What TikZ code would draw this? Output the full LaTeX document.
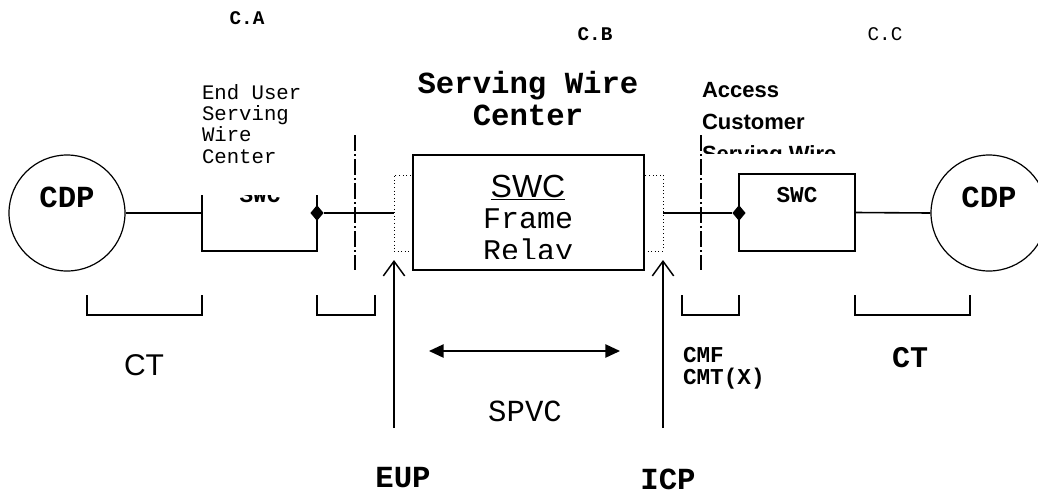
\documentclass[tikz,border=0pt]{standalone}
\usepackage{fontspec}
\newfontfamily\cour{Liberation Mono}
\newfontfamily\arial{Liberation Sans}
\usetikzlibrary{arrows.meta,shapes.geometric}

\begin{document}
\begin{tikzpicture}[
  x=0.75pt,y=-0.75pt,
  txt/.style={inner sep=0pt,outer sep=0pt},
  mono/.style={txt,font=\cour\fontsize{#1}{#1}\selectfont},
  bmono/.style={txt,font=\cour\bfseries\fontsize{#1}{#1}\selectfont},
  wire/.style={line width=1.2pt},
  cdp/.style={circle,draw,line width=0.9pt,minimum size=87pt,inner sep=0pt},
  port/.style={rectangle,draw,dotted,line width=0.7pt,minimum width=14.25pt,
               minimum height=57pt,inner sep=0pt},
  jn/.style={diamond,fill=black,inner sep=0pt,minimum width=10pt,minimum height=12pt},
  cut/.style={line width=0.9pt,dash pattern=on 12pt off 2.5pt on 1pt off 2.5pt},
  brk/.style={line width=0.8pt},
  up/.style={-{Straight Barb[length=11pt,width=16pt]},line width=1.1pt},
  both/.style={{Triangle[length=11pt,width=10pt]}-{Triangle[length=11pt,width=10pt]},line width=1.1pt}
]
\useasboundingbox (0,0) rectangle (1038,494);

% end points
\node[cdp] (cdpL) at (67,213) {};
\node[cdp] (cdpR) at (989,213) {};
\node[bmono=23pt,anchor=base] (cdpLt) at (67,207) {CDP};
\node[bmono=23pt,anchor=base] (cdpRt) at (989,207) {CDP};

% end user office (open box)
\coordinate (swcLnw) at (202,195);
\coordinate (swcLw) at (202,213);
\coordinate (swcLne) at (317,195);
\draw[wire] (swcLnw)--(202,251)--(317,251)--(swcLne);
\node[jn] (jnL) at (317,213) {};
\begin{scope}
  \clip (202,195) rectangle (317,251);
  \node[bmono=17pt,anchor=base] (swcLt) at (260,202) {SWC};
\end{scope}
\node[txt,font=\cour\fontsize{15.5pt}{16pt}\selectfont,anchor=base west,align=left]
  (euswc) at (202,163) {End User\\Serving\\Wire\\Center};

% serving wire center
\node[rectangle,draw,line width=1.2pt,minimum width=173.25pt,minimum height=86.25pt,
      inner sep=0pt] (swc) at (528.5,212.5) {};
\node[port] (portL) at (403.5,213) {};
\node[port] (portR) at (653.5,213) {};
\node[txt,font=\arial\fontsize{24pt}{24pt}\selectfont,anchor=base] (swcT) at (528,197)
  {\underline{SWC}};
\begin{scope}
  \clip (413,155) rectangle (644,258);
  \node[txt,font=\cour\fontsize{22.5pt}{24pt}\selectfont,anchor=base,align=center]
    (fr) at (528,260) {Frame\\Relay};
\end{scope}
\node[txt,font=\cour\bfseries\fontsize{23pt}{24pt}\selectfont,anchor=base,align=center]
  (swcName) at (528,125) {Serving Wire\\Center};

% access customer office
\node[rectangle,draw,line width=1.2pt,minimum width=87pt,minimum height=57.75pt,
      inner sep=0pt] (swcR) at (797,212.5) {};
\node[jn] (jnR) at (739,213) {};
\node[bmono=17pt,anchor=base] (swcRt) at (797,202) {SWC};
\begin{scope}
  \clip (690,60) rectangle (900,153);
  \node[txt,font=\arial\bfseries\fontsize{16.5pt}{24pt}\selectfont,anchor=base west,
        align=left] (acswc) at (702,161) {Access\\Customer\\Serving Wire};
\end{scope}

% wires
\draw[wire] (cdpL.east)--(swcLw);
\draw[wire] (jnL)--(portL.west);
\draw[wire] (portR.east)--(jnR);
\draw[wire] (swcR.east)--(cdpR.west);

% demarcation lines
\draw[cut] (355,135)--(355,270);
\draw[cut] (701,135)--(701,270);

% tops
\node[bmono=14.5pt,anchor=base] (ca) at (247,24) {C.A};
\node[bmono=14.5pt,anchor=base] (cb) at (595,40) {C.B};
\node[mono=14.5pt,anchor=base] (cc) at (885,40) {C.C};

% brackets
\draw[brk] (87,295)--(87,315)--(202,315)--(202,295);
\draw[brk] (317,295)--(317,315)--(375,315)--(375,295);
\draw[brk] (682,295)--(682,315)--(739,315)--(739,295);
\draw[brk] (855,295)--(855,315)--(970,315)--(970,295);
\node[txt,font=\arial\fontsize{22.5pt}{22.5pt}\selectfont,anchor=base] (ctL) at (144,375) {CT};
\node[bmono=22.5pt,anchor=base] (ctR) at (910,367) {CT};
\node[txt,font=\cour\bfseries\fontsize{17pt}{16pt}\selectfont,anchor=base west,align=left]
  (cmf) at (683,384) {CMF\\CMT(X)};

% points of interface
\coordinate (eupFoot) at (394,428);
\coordinate (eupTip) at (394,260);
\coordinate (icpFoot) at (663,428);
\coordinate (icpTip) at (663,260);
\draw[up] (eupFoot)--(eupTip);
\draw[up] (icpFoot)--(icpTip);
\node[bmono=23pt,anchor=base] (eup) at (403,487) {EUP};
\node[bmono=23pt,anchor=base] (icp) at (668,489) {ICP};

% spvc
\coordinate (spvcW) at (429,351);
\coordinate (spvcE) at (620,351);
\draw[both] (spvcW)--(spvcE);
\node[mono=23pt,anchor=base] (spvc) at (525,421) {SPVC};
\end{tikzpicture}
\end{document}
